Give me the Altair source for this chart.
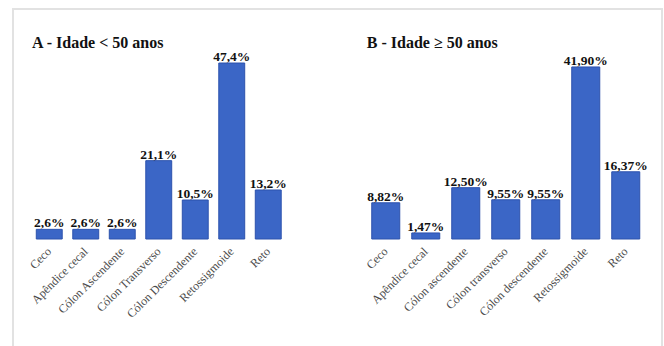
import altair as alt
import pandas as pd

cats_a = ["Ceco", "Apêndice cecal", "Cólon Ascendente", "Cólon Transverso",
          "Cólon Descendente", "Retossigmoide", "Reto"]
vals_a = [2.6, 2.6, 2.6, 21.1, 10.5, 47.4, 13.2]
labs_a = ["2,6%", "2,6%", "2,6%", "21,1%", "10,5%", "47,4%", "13,2%"]

cats_b = ["Ceco", "Apêndice cecal", "Cólon ascendente", "Cólon transverso",
          "Cólon descendente", "Retossigmoide", "Reto"]
vals_b = [8.82, 1.47, 12.50, 9.55, 9.55, 41.90, 16.37]
labs_b = ["8,82%", "1,47%", "12,50%", "9,55%", "9,55%", "41,90%", "16,37%"]

title_a = "A - Idade < 50 anos"
title_b = "B - Idade ≥ 50 anos"

SERIF = "Liberation Serif, Times New Roman, serif"
BLUE = "#3b66c6"
EDGE = "#2c52ad"


def panel(cats, vals, labs, title, width, ymax, pad_inner, frame=False):
    df = pd.DataFrame({"cat": cats, "val": vals, "lab": labs})
    x = alt.X("cat:N", sort=cats, title=None,
              scale=alt.Scale(paddingInner=pad_inner, paddingOuter=pad_inner / 2),
              axis=alt.Axis(labelAngle=-45, labelAlign="right", labelBaseline="middle",
                            labelPadding=10, labelFont=SERIF, labelFontSize=12,
                            labelColor="#4a4a4a", domain=False, ticks=False,
                            labelOverlap=False, labelLimit=200))
    y = alt.Y("val:Q", scale=alt.Scale(domain=[0, ymax], nice=False, zero=True),
              axis=None)
    base = alt.Chart(df)
    bars = base.mark_bar(color=BLUE, stroke=EDGE, strokeWidth=1).encode(x=x, y=y)
    text = base.mark_text(baseline="bottom", dy=1, font=SERIF, fontSize=13.5,
                          fontWeight="bold", color="#111111").encode(
        x=alt.X("cat:N", sort=cats), y="val:Q", text="lab:N")
    ttl = alt.Chart(pd.DataFrame({"t": [title]})).mark_text(
        align="left", baseline="alphabetic", font=SERIF, fontSize=16,
        fontWeight="bold", color="#111111").encode(
        text="t:N", x=alt.value(1), y=alt.value(-5))
    layers = [bars, text, ttl]
    if frame:
        fr = alt.Chart(df).mark_rect(fillOpacity=0, stroke="#e2e2e2", strokeWidth=2).encode(
            x=alt.value(-18), x2=alt.value(631), y=alt.value(-44), y2=alt.value(310))
        layers = [fr] + layers
    return alt.layer(*layers).properties(width=width, height=186)


left = panel(cats_a, vals_a, labs_a, title_a, 255.5, 50.1, 0.29, frame=True)
right = panel(cats_b, vals_b, labs_b, title_b, 280, 45.3, 0.30)

chart = alt.hconcat(left, right, spacing=78.75, bounds="flush").properties(
    padding={"left": 12, "top": 8, "right": 0, "bottom": 0},
    background="white",
).configure_view(stroke=None)

chart.save("out.html", embed_options={"renderer": "svg", "actions": False})
